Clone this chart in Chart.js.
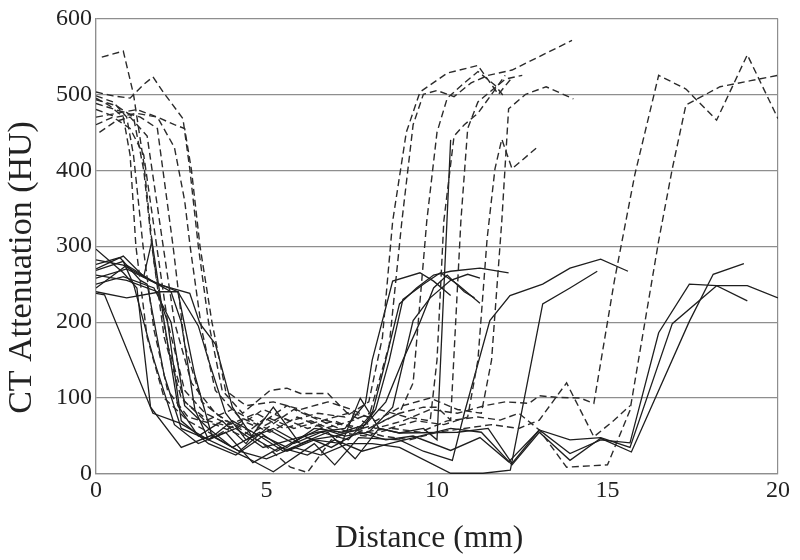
<!DOCTYPE html>
<html>
<head>
<meta charset="utf-8">
<script src="https://cdn.jsdelivr.net/npm/chart.js@4.4.1/dist/chart.umd.min.js"></script>
<style>
  html, body { margin: 0; padding: 0; background: #fff; }
  canvas { display: block; }
</style>
</head>
<body>
<canvas id="profilChart" width="800" height="560"></canvas>
<script>
// Profils d'atténuation CT : [distance (mm), atténuation (HU)]
// Lignes pleines
const plein1 = [[0,238],[0.25,236],[1.67,80],[2.46,67],[3.3,45],[4.1,60],[4.9,35],[5.7,45],[6.5,55],[7.3,60],[7.9,93],[8.1,150],[8.7,254],[9.5,265],[9.9,254],[10.4,235]];
const plein2 = [[0,296],[0.8,265],[1.2,245],[1.6,88],[2.5,35],[3.4,51],[4.2,30],[5.0,60],[5.8,40],[6.6,55],[7.4,45],[8.1,80],[8.42,136],[8.9,224],[9.4,245],[9.9,262],[10.4,267],[11.26,271],[12.1,265]];
const plein3 = [[0,276],[0.7,285],[1.3,255],[1.5,250],[2.0,130],[2.5,60],[3.3,45],[4.0,70],[4.8,50],[5.5,30],[6.3,45],[7.0,50],[7.8,60],[8.2,85],[8.6,150],[9.0,230],[9.6,250],[10.1,265],[10.6,250],[11.26,225]];
const plein4 = [[0,270],[0.8,287],[1.4,260],[1.64,307],[2.0,200],[2.4,90],[3.0,50],[3.7,70],[4.4,40],[5.2,88],[5.9,45],[6.6,60],[7.3,50],[8.0,55],[8.7,88],[9.3,202],[9.8,232],[10.4,255],[10.9,263],[11.26,258]];
const plein5 = [[0,262],[0.9,255],[1.8,240],[2.1,200],[2.5,70],[3.3,40],[4.1,25],[4.9,50],[5.6,35],[6.4,60],[7.2,55],[7.9,65],[8.5,95],[9.0,150],[9.5,200],[9.9,245],[10.3,262],[10.8,240],[11.1,232]];
const plein6 = [[0,250],[0.8,260],[1.7,245],[2.2,200],[2.6,90],[3.3,60],[4.0,35],[4.8,55],[5.6,30],[6.4,45],[7.2,40],[7.75,100],[8.3,60],[8.9,54],[9.6,60],[10.0,45],[10.4,440]];
const plein7 = [[0,245],[0.9,275],[1.8,250],[2.2,240],[2.5,200],[2.9,85],[3.3,45],[4.4,22],[5.2,3],[6.4,40],[7.0,12],[7.7,48],[8.9,45],[9.6,30],[10.45,18],[10.8,80],[11.55,202],[12.14,235],[13.1,250],[13.9,271],[14.8,283],[15.6,267]];
const plein8 = [[0,240],[0.9,232],[1.9,240],[2.4,240],[2.9,130],[3.4,50],[4.2,30],[5.0,20],[5.8,35],[6.6,25],[7.4,40],[8.1,40],[8.9,35],[10.4,1],[11.35,1],[12.15,5],[13.1,224],[13.9,245],[14.7,267]];
const plein9 = [[0,282],[0.8,275],[1.6,255],[2.4,240],[3.0,195],[3.3,150],[3.8,80],[4.4,45],[5.2,60],[6.0,40],[6.8,55],[7.6,20],[8.3,60],[8.9,54],[10.6,55],[11.5,60],[12.2,14],[13.0,58],[13.9,27],[14.8,45],[15.66,41],[16.5,186],[17.4,250],[18.2,248],[19.1,248],[20,232]];
const plein10 = [[0,258],[0.9,270],[1.8,250],[2.75,238],[3.05,198],[3.5,171],[4.0,88],[4.6,48],[5.3,30],[6.1,50],[6.9,35],[7.7,55],[8.5,45],[9.3,50],[10.4,31],[11.26,48],[12.1,16],[13.0,58],[13.9,45],[14.8,48],[15.66,35],[16.9,198],[18.2,248],[19.1,228]];
const plein11 = [[0,268],[0.8,280],[1.1,250],[1.7,150],[2.3,65],[3.0,40],[3.8,55],[4.6,15],[5.4,35],[6.2,25],[7.0,45],[7.8,30],[8.6,40],[9.5,50],[10.4,60],[11.3,55],[12.2,12],[13.0,55],[13.9,18],[14.8,47],[15.7,29],[17.4,201],[18.1,263],[19.0,277]];

// Lignes pointillées
const tiret1 = [[0.17,549],[0.8,557],[1.1,500],[1.4,410],[1.7,280],[2.1,170],[2.6,95],[3.3,70],[4.1,60],[4.9,85],[5.7,70],[6.5,80],[7.3,75],[8.0,95],[8.4,180],[8.7,333],[9.1,450],[9.5,503],[10.3,528],[11.2,538],[11.8,500],[12.2,522]];
const tiret2 = [[0,503],[0.5,498],[1.0,495],[1.4,513],[1.67,523],[1.97,503],[2.55,468],[2.75,402],[3.0,300],[3.3,200],[3.7,110],[4.3,80],[5.1,110],[5.6,113],[6.0,106],[6.8,106],[7.35,81],[8.0,75],[8.6,170],[8.97,333],[9.3,460],[9.6,500],[10.0,505],[10.5,497],[11.0,515],[11.5,525],[12.2,532],[13.1,552],[13.96,571]];
const tiret3 = [[0,498],[0.5,490],[0.9,470],[1.1,420],[1.38,300],[1.7,190],[2.1,110],[2.7,75],[3.5,65],[4.3,50],[5.0,75],[5.8,60],[6.6,70],[7.4,55],[8.2,65],[8.9,80],[9.3,120],[9.7,333],[10.0,450],[10.3,495],[10.8,515],[11.2,530],[11.7,512],[12.0,495]];
const tiret4 = [[0,493],[0.6,485],[1.1,470],[1.4,400],[1.64,300],[2.0,180],[2.5,100],[3.2,70],[4.0,85],[4.8,65],[5.6,90],[6.4,75],[7.2,65],[8.0,60],[8.9,80],[9.6,88],[10.0,88],[10.4,71],[10.7,333],[10.9,455],[11.2,490],[11.6,505],[12.0,520],[12.5,525]];
const tiret5 = [[0,488],[0.7,478],[1.3,470],[1.8,455],[2.26,300],[2.6,170],[3.1,95],[3.8,70],[4.6,55],[5.4,75],[6.2,60],[7.0,70],[7.8,55],[8.6,60],[9.4,70],[10.2,65],[10.9,75],[11.2,150],[11.47,310],[11.7,402],[11.9,441],[12.2,402],[12.96,431]];
const tiret6 = [[0,480],[0.6,470],[1.2,475],[1.8,470],[2.3,460],[2.6,455],[2.8,400],[3.05,300],[3.4,200],[3.8,110],[4.4,90],[5.2,95],[6.0,85],[6.8,95],[7.5,85],[8.2,70],[9.0,90],[9.8,100],[10.6,85],[11.3,80],[11.6,150],[11.9,333],[12.1,481],[12.6,500],[13.2,510],[14.0,494]];
const tiret7 = [[0,470],[0.6,475],[1.2,480],[1.8,470],[2.3,430],[2.6,360],[2.76,300],[3.1,190],[3.5,110],[4.2,75],[5.0,60],[5.8,85],[6.6,70],[7.4,80],[8.2,60],[9.0,70],[9.8,85],[10.6,80],[11.4,90],[12.0,95],[12.7,93],[13.0,103],[13.5,101],[14.2,100],[14.6,93],[15.2,254],[15.8,394],[16.5,525],[17.3,507],[18.2,466],[19.1,552],[20,468]];
const tiret8 = [[0,460],[0.5,470],[1.0,455],[1.4,420],[1.78,300],[2.1,200],[2.6,110],[3.2,80],[3.9,65],[4.7,80],[5.5,60],[6.3,70],[7.1,55],[7.9,50],[8.7,60],[9.5,55],[10.3,70],[11.2,75],[11.85,71],[12.4,80],[13.0,58],[13.8,9],[15.0,12],[15.66,84],[16.5,307],[16.9,402],[17.3,486],[18.3,510],[19.2,518],[20,525]];
const tiret9 = [[0.1,450],[0.56,464],[1.0,470],[1.5,445],[1.97,300],[2.3,200],[2.8,120],[3.5,80],[4.2,60],[4.9,40],[5.7,9],[6.2,2],[6.9,45],[7.6,60],[8.4,50],[9.2,45],[10.0,55],[10.8,60],[11.6,65],[12.4,60],[13.0,71],[13.8,120],[14.6,49],[15.2,71],[15.66,90]];
const tiret10 = [[0,495],[0.4,485],[0.8,470],[1.0,420],[1.17,300],[1.5,180],[2.0,100],[2.7,70],[3.5,50],[4.3,70],[5.1,55],[5.9,75],[6.7,60],[7.5,70],[8.3,85],[9.1,75],[9.8,70],[10.0,150],[10.2,333],[10.5,445],[10.8,460],[11.2,475],[11.6,500],[12.0,525]];

// Graduations des axes
const ticksX = [0, 5, 10, 15, 20];
const ticksY = [0, 100, 200, 300, 400, 500, 600];

const lignesPleines = [plein1, plein2, plein3, plein4, plein5, plein6, plein7, plein8, plein9, plein10, plein11];
const lignesTirets = [tiret1, tiret2, tiret3, tiret4, tiret5, tiret6, tiret7, tiret8, tiret9, tiret10];

const versPoints = serie => serie.map(p => ({ x: p[0], y: p[1] }));

const datasets = [
    ...lignesTirets.map(s => ({
        data: versPoints(s),
        borderColor: '#2b2b2b',
        borderWidth: 1.4,
        borderDash: [7, 4]
    })),
    ...lignesPleines.map(s => ({
        data: versPoints(s),
        borderColor: '#1e1e1e',
        borderWidth: 1.3
    }))
];

const police = 'Liberation Serif, Times New Roman, serif';
const gris = '#8e8e8e';

const ctx = document.getElementById('profilChart').getContext('2d');
new Chart(ctx, {
    type: 'line',
    data: { datasets },
    options: {
        responsive: false,
        animation: false,
        layout: { padding: { left: 2, right: 22, top: 16, bottom: 2 } },
        elements: { point: { radius: 0 }, line: { tension: 0 } },
        plugins: { legend: { display: false }, tooltip: { enabled: false } },
        scales: {
            x: {
                type: 'linear',
                min: 0,
                max: 20,
                afterBuildTicks: axis => { axis.ticks = ticksX.map(v => ({ value: v })); },
                afterFit: axis => { axis.height = 84; },
                ticks: { color: '#222', font: { family: police, size: 24 }, padding: 2, maxRotation: 0 },
                grid: {
                    drawTicks: false,
                    lineWidth: 1.2,
                    color: c => (c.tick && (c.tick.value === 0 || c.tick.value === 20)) ? gris : 'rgba(0,0,0,0)'
                },
                border: { display: true, color: gris, width: 1.2 },
                title: {
                    display: true,
                    // espaces finales : le titre est décalé vers la gauche comme sur l'original
                    text: 'Distance (mm)  ',
                    color: '#222',
                    font: { family: police, size: 31.5 },
                    padding: 0
                }
            },
            y: {
                min: 0,
                max: 600,
                afterBuildTicks: axis => { axis.ticks = ticksY.map(v => ({ value: v })); },
                afterFit: axis => { axis.width = 94; },
                ticks: { color: '#222', font: { family: police, size: 24 }, padding: 4 },
                grid: { drawTicks: false, color: gris, lineWidth: 1.2 },
                border: { display: true, color: gris, width: 1.2 },
                title: {
                    display: true,
                    // espaces finales : le titre descend un peu, comme sur l'original
                    text: 'CT Attenuation (HU)     ',
                    color: '#222',
                    font: { family: police, size: 34 },
                    padding: 0
                }
            }
        }
    }
});
</script>
</body>
</html>
